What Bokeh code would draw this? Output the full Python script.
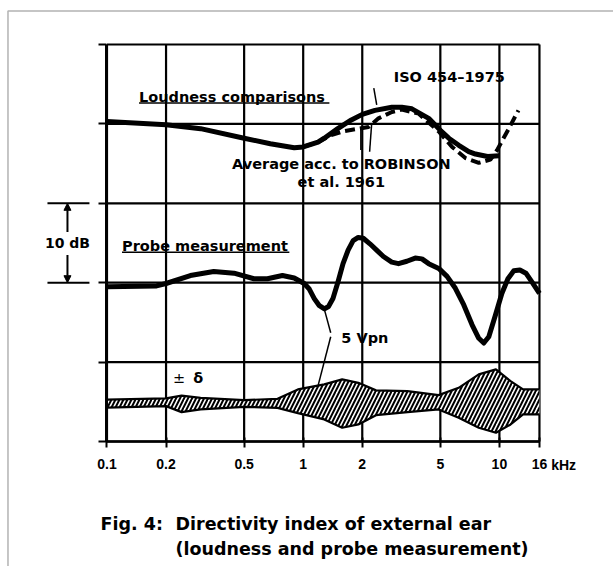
from bokeh.plotting import figure
from bokeh.models import FixedTicker, Label, Arrow, NormalHead, BoxAnnotation
from bokeh.embed import file_html
from bokeh.resources import INLINE

# ---------------- data ----------------
tick_freqs = [0.1, 0.2, 0.5, 1, 2, 5, 10, 16]
tick_labels = ["0.1", "0.2", "0.5", "1", "2", "5", "10", "16"]
grid_db = [0, 10, 20, 30, 40, 50]

# ISO 454-1975 (loudness comparisons), solid
iso_f = [0.1, 0.2, 0.30, 0.5, 0.68, 0.90, 1.0, 1.19, 1.28, 1.50, 1.76, 2.0, 2.32, 2.83, 3.18, 3.58,
         4.36, 5.0, 5.52, 6.21, 6.98, 7.55, 8.7, 10.0]
iso_db = [40.3, 39.9, 39.4, 38.2, 37.5, 37.0, 37.1, 37.7, 38.2, 39.4, 40.5, 41.2, 41.7, 42.1, 42.1, 41.9,
          40.7, 39.2, 38.2, 37.3, 36.5, 36.2, 35.9, 36.0]

# Average acc. to ROBINSON et al. 1961, dashed
rob_f = [1.0, 1.19, 1.39, 1.63, 1.91, 2.15, 2.42, 2.83, 3.18, 3.87, 4.93, 5.74, 6.71, 7.85, 9.0, 9.73, 11.05, 12.5]
rob_db = [37.1, 37.7, 38.6, 39.1, 39.4, 39.6, 40.7, 41.5, 41.8, 41.3, 39.0, 37.1, 35.7, 35.1, 35.5, 36.7, 39.2, 41.7]

# Probe measurement
probe_f = [0.1, 0.179, 0.2, 0.266, 0.35, 0.444, 0.561, 0.657, 0.784, 0.90, 1.012, 1.074, 1.139,
           1.209, 1.283, 1.346, 1.418, 1.504, 1.596, 1.694, 1.797, 1.907, 2.024, 2.188, 2.367,
           2.563, 2.827, 3.06, 3.376, 3.723, 4.03, 4.36, 4.907, 5.41, 5.965, 6.584, 7.257, 7.85,
           8.325, 8.83, 9.54, 10.29, 11.05, 11.84, 12.72, 13.65, 14.64, 16]
probe_db = [19.5, 19.6, 19.9, 20.9, 21.4, 21.2, 20.5, 20.5, 20.9, 20.6, 19.9, 19.2, 18.0,
            17.1, 16.7, 17.0, 18.0, 20.1, 22.4, 24.1, 25.3, 25.7, 25.6, 24.9, 24.1,
            23.3, 22.6, 22.4, 22.7, 23.1, 23.0, 22.4, 21.8, 20.8, 19.3, 17.2, 14.7, 13.0,
            12.4, 13.2, 15.9, 18.65, 20.5, 21.5, 21.6, 21.2, 20.1, 18.65]

# +/- delta band (5 Vpn)
band_f = [0.1, 0.2, 0.24, 0.30, 0.5, 0.74, 0.94, 1.28, 1.58, 1.91, 2.35, 3.4, 4.9, 6.2, 7.85, 9.6, 11.4, 13.2, 16]
band_hi = [5.28, 5.43, 5.78, 5.50, 5.21, 5.38, 6.56, 7.19, 7.82, 7.39, 6.44, 6.35, 5.84, 6.76, 8.45, 9.08, 7.61, 6.56, 6.56]
band_lo = [4.27, 4.46, 3.70, 4.04, 4.37, 4.24, 3.58, 2.78, 1.73, 2.15, 3.32, 3.70, 4.04, 2.98, 1.73, 1.10, 2.15, 3.41, 3.41]

# ---------------- figure ----------------
BOLD_FONT = "DejaVu Sans"
TICK_FONT = "Liberation Sans"

# the frame covers the whole canvas; the chart box (0.1-16 kHz, 0-50) sits inside it
p = figure(width=613, height=566, x_axis_type="log",
           x_range=(0.02866, 38.15), y_range=(-15.74, 55.54),
           output_backend="svg", toolbar_location=None,
           min_border_left=0, min_border_right=0, min_border_top=0, min_border_bottom=0)
p.background_fill_color = "white"
p.border_fill_color = "white"
p.outline_line_color = None
p.xgrid.visible = False
p.ygrid.visible = False

f_lo, f_hi = min(tick_freqs), max(tick_freqs)
d_lo, d_hi = min(grid_db), max(grid_db)

# grid lines of the chart box
p.segment(x0=tick_freqs, y0=[d_lo] * len(tick_freqs), x1=tick_freqs, y1=[d_hi] * len(tick_freqs),
          line_color="black", line_width=2.2)
p.segment(x0=[f_lo] * len(grid_db), y0=grid_db, x1=[f_hi] * len(grid_db), y1=grid_db,
          line_color="black", line_width=2.2)

# x axis drawn at 0 dB
xa = p.xaxis[0]
xa.fixed_location = 0
xa.bounds = (f_lo, f_hi)
xa.ticker = FixedTicker(ticks=tick_freqs, minor_ticks=[])
xa.major_label_overrides = {f: l for f, l in zip(tick_freqs, tick_labels)}
xa.axis_line_width = 2.5
xa.major_tick_line_width = 2
xa.major_tick_out = 6
xa.major_tick_in = 4
xa.minor_tick_line_color = None
xa.major_label_standoff = 11
xa.major_label_text_font = TICK_FONT
xa.major_label_text_font_style = "bold"
xa.major_label_text_font_size = "14px"
xa.major_label_text_color = "black"

# y axis drawn at 0.1 kHz (ticks only)
ya = p.yaxis[0]
ya.fixed_location = 0.1
ya.bounds = (d_lo, d_hi)
ya.ticker = FixedTicker(ticks=grid_db, minor_ticks=[])
ya.axis_line_width = 3
ya.major_tick_line_width = 2
ya.major_tick_out = 8
ya.major_tick_in = 0
ya.minor_tick_line_color = None
ya.major_label_text_color = None
ya.major_label_text_font_size = "1px"

# curves
p.varea(x=band_f, y1=band_lo, y2=band_hi, fill_color="white",
        hatch_pattern="/", hatch_color="black", hatch_weight=2, hatch_scale=8)
p.line(band_f, band_hi, line_color="black", line_width=2.2)
p.line(band_f, band_lo, line_color="black", line_width=2.2)

p.line(rob_f, rob_db, line_color="black", line_width=4, line_dash="10 5")
p.line(iso_f, iso_db, line_color="black", line_width=5, line_join="round")
p.line(probe_f, probe_db, line_color="black", line_width=5, line_join="round")

# ---------------- annotations ----------------
def lab(x, y, text, size="14.5px", bold=True, align="left", font=BOLD_FONT, baseline="middle"):
    p.add_layout(Label(x=x, y=y, text=text, text_font=font,
                       text_font_style="bold" if bold else "normal",
                       text_font_size=size, text_align=align, text_baseline=baseline,
                       text_color="black"))

def seg(x0, y0, x1, y1, w=1.5, head=None):
    p.add_layout(Arrow(x_start=x0, y_start=y0, x_end=x1, y_end=y1, end=head,
                       line_color="black", line_width=w))

lab(0.1457, 43.4, "Loudness comparisons")
seg(0.1457, 42.64, 1.36, 42.64)
lab(2.894, 45.92, "ISO 454\u20131975")
seg(2.29, 44.5, 2.37, 42.4)
lab(1.564, 35.0, "Average acc. to ROBINSON", align="center")
lab(1.564, 32.7, "et al. 1961", align="center")
seg(1.967, 39.4, 1.967, 36.7)
seg(2.233, 40.0, 2.18, 36.5)

lab(0.1193, 24.66, "Probe measurement")
seg(0.1193, 23.82, 0.85, 23.82)
lab(1.564, 13.07, "5 Vpn")
seg(1.28, 16.7, 1.381, 13.7)
seg(1.381, 13.2, 1.19, 7.0)

lab(0.217, 7.98, "\u00b1", bold=False)
lab(0.2755, 7.98, "\u03b4")

# 10 dB scale marker (left of the chart box)
seg(0.04973, 30, 0.0814, 30, w=2)
seg(0.04973, 20, 0.0814, 20, w=2)
seg(0.06289, 26.4, 0.06289, 30, w=2,
    head=NormalHead(size=7, fill_color="black", line_color="black", line_width=1))
seg(0.06289, 23.5, 0.06289, 20, w=2,
    head=NormalHead(size=7, fill_color="black", line_color="black", line_width=1))
lab(0.06289, 25.04, "10 dB", size="14px", align="center")

# unit after the last tick label
lab(18.37, -2.95, "kHz", font=TICK_FONT, size="14px")

# caption
lab(0.09266, -10.39, "Fig. 4:", size="17.5px")
lab(0.2234, -10.39, "Directivity index of external ear", size="17.5px")
lab(0.2234, -13.48, "(loudness and probe measurement)", size="17.5px")

# outer frame of the figure (left and top edges visible)
p.add_layout(BoxAnnotation(left=0.03129, right=1000, top=54.22, bottom=-1000,
                           fill_alpha=0, line_color="black", line_width=1.5))

open("out.html", "w").write(file_html(p, INLINE))
